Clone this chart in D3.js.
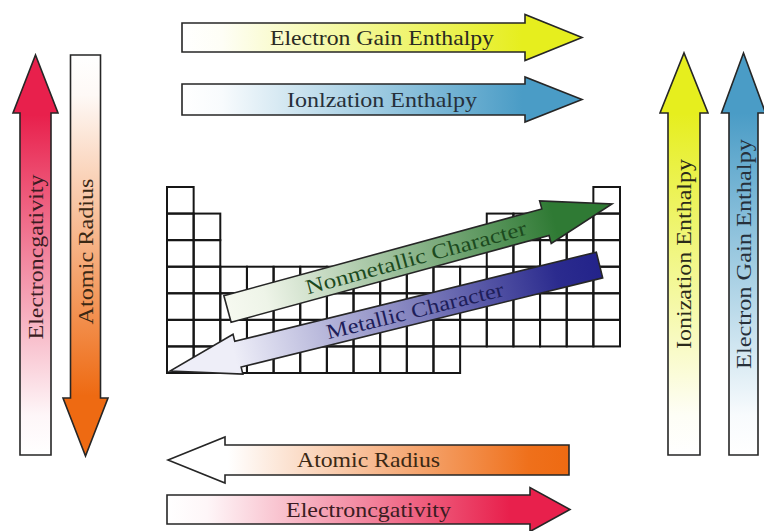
<!DOCTYPE html>
<html>
<head>
<meta charset="utf-8">
<script src="https://cdn.jsdelivr.net/npm/d3@7"></script>
<style>
  html, body { margin: 0; padding: 0; background: #fff; }
  svg { display: block; }
  text { font-family: "Liberation Serif", "Times New Roman", serif; }
</style>
</head>
<body>
<svg id="chart" width="764" height="531"></svg>
<script>
// periodic table skeleton: which groups exist in each period
const periods = [1, 2, 3, 4, 5, 6, 7];
const groups = [1, 2, 3, 4, 5, 6, 7, 8, 9, 10, 11, 12, 13, 14, 15, 16, 17];
const periodBlocks = [
  [[1, 1], [17, 17]],
  [[1, 2], [13, 17]],
  [[1, 2], [13, 17]],
  [[1, 17]],
  [[1, 17]],
  [[1, 17]],
  [[1, 11]]
];

// trend arrows
const trendLabels = [
  'Electron Gain Enthalpy', 'Ionlzation Enthalpy', 'Atomic Radius', 'Electroncgativity',
  'Electroncgativity', 'Atomic Radius', 'Ionization Enthalpy', 'Electron Gain Enthalpy',
  'Nonmetallic Character', 'Metallic Character'
];
const trendTailColors = ['#ffffff', '#ffffff', '#ee6a12', '#ffffff', '#ffffff', '#ffffff', '#ffffff', '#ffffff', '#f6f9f0', '#23238a'];
const trendTipColors  = ['#e6ee1e', '#4a9cc6', '#ffffff', '#e8204c', '#e8204c', '#ee6a12', '#e6ee1e', '#4a9cc6', '#2f7a34', '#eeeef8'];
const trendTextColors = ['#2a2a22', '#26303a', '#3a2814', '#3a1c22', '#3a1c22', '#3a2814', '#2a2a1a', '#26303a', '#1c4a1e', '#1e1e5a'];

// drawing layout (page pixels)
const arrowLayout = [
  { tail: [182, 37.5], tip: [582, 37.5], body: 29, head: 46, headLen: 57, t: 0.5, len: 224 },
  { tail: [182, 99.5], tip: [582, 99.5], body: 31, head: 45, headLen: 57, t: 0.5, len: 190 },
  { tail: [569, 460], tip: [168, 460], body: 30, head: 46, headLen: 57, t: 0.5, len: 143 },
  { tail: [167, 509.5], tip: [570, 509.5], body: 29, head: 44, headLen: 40, t: 0.5, len: 165 },
  { tail: [35.5, 455], tip: [35.5, 55], body: 31, head: 45, headLen: 58, t: 0.495, len: 165 },
  { tail: [85.5, 55], tip: [85.5, 456], body: 30, head: 45, headLen: 58, t: 0.49, len: 146 },
  { tail: [684, 455], tip: [684, 53], body: 32, head: 48, headLen: 60, t: 0.5, len: 190 },
  { tail: [743.5, 455], tip: [743.5, 53], body: 29, head: 44, headLen: 60, t: 0.5, len: 230 },
  { tail: [227.5, 309], tip: [612, 204], body: 27.5, head: 44, headLen: 69, t: 0.49, len: 228 },
  { tail: [599.5, 265], tip: [170, 371], body: 26.5, head: 41, headLen: 70, t: 0.43, len: 182 }
];

const svg = d3.select('#chart');
const defs = svg.append('defs');

svg.append('rect').attr('width', 764).attr('height', 531).attr('fill', '#fff');

const x = d3.scaleBand().domain(groups).range([167, 620]);
const y = d3.scaleBand().domain(periods).range([187, 373]);

// table cells
const cells = [];
periodBlocks.forEach(function (blocks, i) {
  blocks.forEach(function (b) {
    groups.filter(function (g) { return g >= b[0] && g <= b[1]; })
      .forEach(function (g) { cells.push({ period: periods[i], group: g }); });
  });
});

svg.append('g').selectAll('rect')
  .data(cells)
  .enter().append('rect')
  .attr('x', function (d) { return x(d.group); })
  .attr('y', function (d) { return y(d.period); })
  .attr('width', x.bandwidth())
  .attr('height', y.bandwidth())
  .attr('fill', 'none')
  .attr('stroke', '#161616')
  .attr('stroke-width', 2);

// arrows
const arrows = trendLabels.map(function (label, i) {
  const a = arrowLayout[i];
  const dx = a.tip[0] - a.tail[0], dy = a.tip[1] - a.tail[1];
  return Object.assign({ label: label, tailColor: trendTailColors[i], tipColor: trendTipColors[i],
    textColor: trendTextColors[i], L: Math.hypot(dx, dy), angle: Math.atan2(dy, dx) * 180 / Math.PI, id: 'g' + i }, a);
});

arrows.forEach(function (d) {
  const grad = defs.append('linearGradient')
    .attr('id', d.id)
    .attr('gradientUnits', 'userSpaceOnUse')
    .attr('x1', 0).attr('y1', 0).attr('x2', d.L).attr('y2', 0);
  const mix = d3.interpolateRgb(d.tailColor, d.tipColor);
  grad.append('stop').attr('offset', 0).attr('stop-color', d.tailColor);
  grad.append('stop').attr('offset', 0.1).attr('stop-color', mix(0.04));
  grad.append('stop').attr('offset', 0.5).attr('stop-color', mix(0.55));
  grad.append('stop').attr('offset', 0.85).attr('stop-color', d.tipColor);
  grad.append('stop').attr('offset', 1).attr('stop-color', d.tipColor);
});

function arrowPath (d) {
  const b = d.body / 2, h = d.head / 2, s = d.L - d.headLen;
  const p = d3.path();
  p.moveTo(0, -b); p.lineTo(s, -b); p.lineTo(s, -h); p.lineTo(d.L, 0);
  p.lineTo(s, h); p.lineTo(s, b); p.lineTo(0, b); p.closePath();
  return p.toString();
}

const ag = svg.append('g').selectAll('g')
  .data(arrows)
  .enter().append('g');

ag.append('path')
  .attr('transform', function (d) { return 'translate(' + d.tail[0] + ',' + d.tail[1] + ') rotate(' + d.angle + ')'; })
  .attr('d', arrowPath)
  .attr('fill', function (d) { return 'url(#' + d.id + ')'; })
  .attr('stroke', '#262626')
  .attr('stroke-width', 1.6)
  .attr('stroke-linejoin', 'miter');

ag.append('text')
  .attr('transform', function (d) {
    const px = d.tail[0] + (d.tip[0] - d.tail[0]) * d.t;
    const py = d.tail[1] + (d.tip[1] - d.tail[1]) * d.t;
    let a = d.angle;
    if (a > 89) a -= 180;
    if (a < -91) a += 180;
    return 'translate(' + px + ',' + py + ') rotate(' + a + ')';
  })
  .attr('text-anchor', 'middle')
  .attr('dy', '0.34em')
  .attr('font-size', 21)
  .attr('textLength', function (d) { return d.len; })
  .attr('lengthAdjust', 'spacingAndGlyphs')
  .attr('fill', function (d) { return d.textColor; })
  .text(function (d) { return d.label; });
</script>
</body>
</html>
